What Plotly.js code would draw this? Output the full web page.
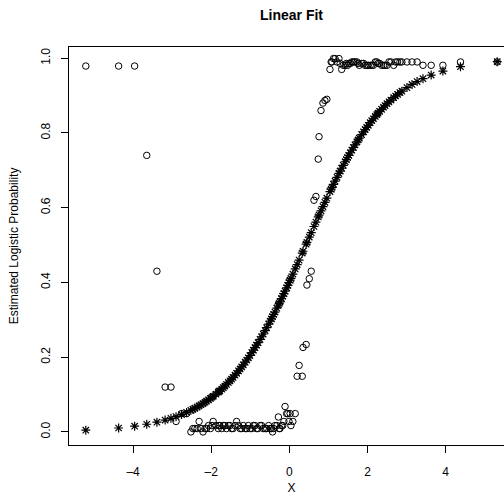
<!DOCTYPE html>
<html>
<head>
<meta charset="utf-8">
<script src="https://cdn.plot.ly/plotly-3.0.1.min.js"></script>
<style>
html,body{margin:0;padding:0;overflow:hidden;background:#fff;width:504px;height:504px;}
#chart{width:520px;height:504px;}
</style>
</head>
<body>
<div id="chart"></div>
<script>
// x values of the observations
const xValues = [
 -5.21,-4.37,-3.96,-3.65,-3.39,-3.18,-3.03,-2.90,-2.76,-2.63,
 -2.52,-2.47,-2.42,-2.36,-2.31,-2.26,-2.21,-2.16,-2.12,-2.07,
 -2.02,-1.98,-1.95,-1.88,-1.82,-1.80,-1.78,-1.73,-1.69,-1.65,
 -1.61,-1.56,-1.52,-1.48,-1.44,-1.39,-1.35,-1.30,-1.26,-1.22,
 -1.18,-1.13,-1.09,-1.05,-1.01,-0.96,-0.92,-0.88,-0.84,-0.80,
 -0.75,-0.71,-0.67,-0.62,-0.58,-0.53,-0.49,-0.46,-0.43,-0.40,
 -0.37,-0.32,-0.28,-0.26,-0.24,-0.20,-0.17,-0.14,-0.11,-0.07,
 -0.04,-0.01,0.02,0.04,0.09,0.15,
 0.20,0.25,0.33,0.35,0.43,0.45,0.51,0.56,0.63,0.68,0.74,0.76,0.81,0.86,0.91,0.96,
 1.04,1.07,1.09,1.13,1.17,1.22,1.27,1.30,1.34,1.38,
 1.43,1.46,1.49,1.52,1.56,1.60,1.64,1.68,1.73,1.76,
 1.79,1.85,1.90,1.94,1.98,2.02,2.07,2.11,2.15,2.20,
 2.24,2.27,2.31,2.36,2.41,2.45,2.50,2.55,2.60,2.67,
 2.72,2.77,2.83,2.88,3.01,3.14,3.27,3.42,3.63,3.93,4.38,5.32
];

// estimated logistic probabilities (asterisks)
const fittedProb = [
 0.0047,0.0105,0.0154,0.0205,0.0261,0.0317,0.0363,0.0409,0.0465,0.0523,
 0.0577,0.0604,0.0631,0.0665,0.0695,0.0727,0.0760,0.0794,0.0822,0.0858,
 0.0896,0.0928,0.0952,0.1011,0.1064,0.1082,0.1101,0.1148,0.1187,0.1228,
 0.1269,0.1323,0.1367,0.1412,0.1459,0.1519,0.1569,0.1633,0.1685,0.1739,
 0.1795,0.1866,0.1924,0.1984,0.2045,0.2123,0.2187,0.2253,0.2320,0.2388,
 0.2476,0.2547,0.2620,0.2713,0.2789,0.2885,0.2964,0.3024,0.3084,0.3145,
 0.3207,0.3311,0.3396,0.3439,0.3482,0.3569,0.3634,0.3700,0.3767,0.3857,
 0.3924,0.3993,0.4061,0.4107,0.4223,0.4362,
 0.4479,0.4597,0.4786,0.4834,0.5024,0.5071,0.5214,0.5332,0.5497,0.5614,0.5754,0.5801,0.5916,0.6030,0.6143,0.6255,
 0.6431,0.6497,0.6540,0.6625,0.6710,0.6813,0.6916,0.6976,0.7056,0.7134,
 0.7230,0.7287,0.7343,0.7398,0.7470,0.7541,0.7611,0.7680,0.7763,0.7813,
 0.7861,0.7955,0.8031,0.8091,0.8148,0.8205,0.8274,0.8328,0.8380,0.8444,
 0.8492,0.8529,0.8576,0.8633,0.8688,0.8731,0.8783,0.8832,0.8881,0.8945,
 0.8989,0.9031,0.9080,0.9119,0.9213,0.9298,0.9375,0.9453,0.9548,0.9656,0.9773,0.9906
];

// linear-fit values (open circles)
const linearFit = [
 0.979,0.979,0.979,0.740,0.430,0.120,0.120,0.028,0.049,0.049,
 0.000,0.009,0.009,0.009,0.028,0.009,0.000,0.009,0.009,0.017,
 0.009,0.017,0.028,0.017,0.009,0.017,0.017,0.009,0.017,0.017,
 0.009,0.017,0.017,0.009,0.009,0.017,0.028,0.017,0.009,0.009,
 0.017,0.009,0.009,0.017,0.009,0.009,0.017,0.017,0.009,0.009,
 0.017,0.017,0.009,0.009,0.009,0.017,0.009,0.009,0.000,0.009,
 0.017,0.017,0.040,0.009,0.009,0.017,0.017,0.028,0.068,0.049,
 0.049,0.028,0.049,0.017,0.028,0.049,
 0.149,0.178,0.149,0.226,0.234,0.393,0.410,0.430,0.620,0.630,0.730,0.790,0.860,0.880,0.887,0.890,
 0.970,0.990,0.990,0.999,0.999,0.990,0.999,0.986,0.970,0.981,
 0.981,0.986,0.981,0.986,0.986,0.990,0.990,0.990,0.990,0.986,
 0.981,0.986,0.986,0.981,0.981,0.981,0.981,0.981,0.981,0.990,
 0.990,0.986,0.986,0.981,0.981,0.981,0.981,0.990,0.990,0.981,
 0.990,0.990,0.990,0.990,0.990,0.990,0.990,0.981,0.981,0.981,0.990,0.990
];

const xTicks = [-4,-2,0,2,4];
const yTicks = [0,0.2,0.4,0.6,0.8,1.0];
const yTickText = ['0.0','0.2','0.4','0.6','0.8','1.0'];

const font = 'Liberation Sans, Arial, Helvetica, sans-serif';

const traces = [
 {
  x: xValues, y: fittedProb, type: 'scatter', mode: 'markers',
  marker: {symbol: 'asterisk-open', size: 7.5, color: '#000', line: {color: '#000', width: 1.2}},
  hoverinfo: 'skip'
 },
 {
  x: xValues, y: linearFit, type: 'scatter', mode: 'markers',
  marker: {symbol: 'circle-open', size: 6.5, color: '#000', line: {color: '#000', width: 1}},
  hoverinfo: 'skip'
 }
];

const layout = {
 width: 520, height: 504,
 margin: {l: 69, r: 6, t: 47, b: 59},
 paper_bgcolor: '#fff', plot_bgcolor: '#fff',
 showlegend: false,
 font: {family: font, size: 12, color: '#000'},
 title: {text: 'Linear Fit', font: {family: font, size: 14, weight: 'bold', color: '#000'},
         x: 291.5/520, xanchor: 'center', xref: 'container', y: 1 - 15/504, yanchor: 'middle', yref: 'container'},
 xaxis: {
  range: [-5.64, 5.75], tickvals: xTicks, ticktext: xTicks.map(v => v < 0 ? '\u2013' + Math.abs(v) : String(v)),
  ticks: 'outside', ticklen: 7, tickcolor: '#000', tickwidth: 1,
  showline: true, mirror: true, linecolor: '#000', linewidth: 1,
  showgrid: false, zeroline: false, ticklabelstandoff: 9,
  tickfont: {family: font, size: 12, color: '#000'},
  title: {text: 'X', font: {family: font, size: 12, color: '#000'}, standoff: 5}
 },
 yaxis: {
  range: [-0.035, 1.030], tickvals: yTicks, ticktext: yTickText, tickangle: -90,
  ticks: 'outside', ticklen: 7, tickcolor: '#000', tickwidth: 1,
  showline: true, mirror: true, linecolor: '#000', linewidth: 1,
  showgrid: false, zeroline: false, ticklabelstandoff: 6,
  tickfont: {family: font, size: 12, color: '#000'},
  title: {text: 'Estimated Logistic Probability', font: {family: font, size: 12, color: '#000'}, standoff: 18}
 }
};

Plotly.newPlot('chart', traces, layout, {displayModeBar: false, staticPlot: true});
</script>
</body>
</html>
